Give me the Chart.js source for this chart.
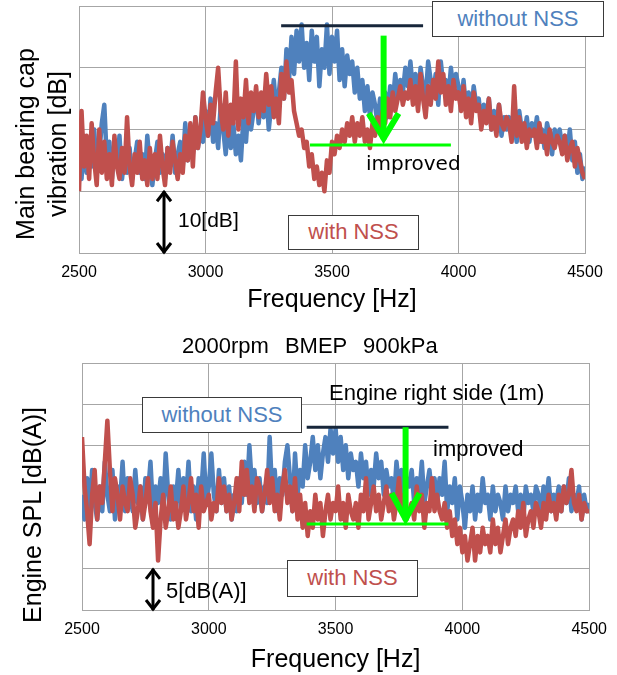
<!DOCTYPE html>
<html>
<head>
<meta charset="utf-8">
<script src="https://cdn.jsdelivr.net/npm/chart.js@4.4.1/dist/chart.umd.min.js"></script>
<style>
body{margin:0;width:617px;height:675px;position:relative;background:#fff;overflow:hidden;font-family:Arial,"Liberation Sans",sans-serif}
canvas{position:absolute;left:0}
#topChart{top:0}
#botChart{top:330px}
.box{position:absolute;background:#fff;border:1.5px solid #3a3a3a;box-sizing:border-box;text-align:center;font-size:22px}
.lbl{position:absolute;white-space:pre;color:#000}
.ytitle{position:absolute;transform:rotate(-90deg);white-space:nowrap;text-align:center;font-size:25px;color:#000}
</style>
</head>
<body>
<canvas id="topChart" width="617" height="320"></canvas>
<canvas id="botChart" width="617" height="345"></canvas>

<!-- top chart labels -->
<div class="ytitle" style="left:-89px;top:112px;width:260px;height:64px;line-height:32px">Main bearing cap<br>vibration [dB]</div>
<div class="box" style="left:432px;top:1px;width:172px;height:36px;line-height:33px;color:#4F81BD">without NSS</div>
<div class="box" style="left:288px;top:215px;width:131px;height:35px;line-height:32px;color:#C0504D">with NSS</div>
<div class="lbl" style="left:366px;top:151px;font-family:'DejaVu Sans',sans-serif;font-size:20px;line-height:24px">improved</div>
<div class="lbl" style="left:178px;top:208px;font-size:21px;line-height:24px">10[dB]</div>

<!-- bottom chart labels -->
<div class="lbl" style="left:182px;top:333px;font-size:22px;line-height:26px;word-spacing:10px">2000rpm BMEP 900kPa</div>
<div class="ytitle" style="left:-118px;top:500px;width:300px;height:30px;line-height:30px">Engine SPL [dB(A)]</div>
<div class="lbl" style="left:329px;top:380px;font-size:22px;line-height:26px">Engine right side (1m)</div>
<div class="box" style="left:142px;top:397px;width:160px;height:36px;line-height:33px;color:#4F81BD">without NSS</div>
<div class="box" style="left:287px;top:560px;width:131px;height:37px;line-height:34px;color:#C0504D">with NSS</div>
<div class="lbl" style="left:433px;top:436px;font-size:22px;line-height:26px">improved</div>
<div class="lbl" style="left:166px;top:578px;font-size:22px;line-height:26px">5[dB(A)]</div>

<script>
// ===== DATA =====
// frequency grid, 10 Hz steps from 2500 to 4500
const FREQ_HZ = Array.from({length: 201}, (_, i) => 2500 + i * 10);
const X_TICKS = [2500, 3000, 3500, 4000, 4500];

// Main bearing cap vibration [dB]
const TOP_WITHOUT_NSS = [
  16,12,19,13,17,14,20,13,16,21,
  24,15,18,12,17,14,19,12,16,13,
  17,12,15,18,13,16,12,19,14,11,
  15,18,13,16,12,17,14,19,13,16,
  18,14,21,15,19,16,22,17,20,18,
  23,19,25,18,21,17,24,20,16,22,
  17,21,16,19,15,22,18,24,20,23,
  26,21,25,22,27,20,24,28,23,26,
  30,25,33,28,35,29,36,31,37,30,
  34,28,36,31,35,27,33,30,37,29,
  35,31,36,28,33,27,32,29,31,26,
  30,25,28,23,27,22,26,24,21,25,
  23,26,22,27,24,29,25,28,26,30,
  27,31,26,29,24,30,27,25,31,28,
  26,29,24,31,27,28,25,30,26,29,
  27,24,28,23,26,22,27,24,25,21,
  24,22,25,20,23,21,24,19,22,20,
  22,19,21,18,23,20,19,22,18,21,
  19,22,18,20,17,21,19,16,20,18,
  20,17,19,16,20,15,18,13,16,12,
  14
];
const TOP_WITH_NSS = [
  10,23,14,19,12,21,15,11,20,13,
  18,12,16,11,19,14,12,17,13,22,
  14,11,16,13,18,12,15,11,17,12,
  16,12,19,14,11,17,13,18,15,12,
  16,13,19,15,21,14,22,17,20,26,
  22,19,24,21,26,30,23,20,26,19,
  24,21,31,20,25,22,28,21,26,23,
  27,22,26,23,29,24,27,22,25,21,
  29,25,31,26,28,23,21,19,20,17,
  18,14,16,12,14,11,13,10,15,13,
  18,16,19,17,20,18,21,19,22,18,
  21,19,22,18,20,17,21,19,22,20,
  23,21,25,22,26,23,25,27,24,26,
  25,28,24,27,23,29,25,22,27,24,
  28,25,31,26,29,24,27,23,28,25,
  26,23,27,22,25,21,26,23,24,20,
  23,21,25,20,22,19,24,21,20,22,
  21,18,27,19,22,18,21,17,20,19,
  20,17,21,18,19,16,20,18,17,19,
  18,16,19,15,17,18,14,17,15,13,
  12
];

// Engine SPL [dB(A)]
const BOT_WITHOUT_NSS = [
  14,11,16,12,17,13,11,15,12,18,
  14,12,17,11,15,13,18,12,16,14,
  12,17,13,15,11,16,14,18,12,15,
  13,16,12,19,14,11,15,13,17,12,
  16,13,18,12,15,11,16,14,19,13,
  15,19,14,12,17,13,16,12,15,11,
  14,12,16,13,18,14,20,15,17,13,
  16,12,15,13,21,14,17,12,16,14,
  18,20,16,12,19,14,17,15,20,16,
  18,21,17,20,16,19,21,18,22,19,
  22,18,21,17,20,16,19,17,18,15,
  19,16,18,14,17,15,19,16,18,14,
  17,15,16,13,18,15,17,14,16,15,
  17,13,16,14,18,13,15,17,14,16,
  13,16,14,18,12,15,13,16,11,15,
  13,10,14,12,15,11,14,12,16,13,
  14,11,15,12,14,13,11,15,12,14,
  13,15,12,14,11,15,13,14,12,15,
  14,12,15,13,16,12,14,13,15,12,
  15,13,16,12,14,13,15,11,14,12,
  13
];
const BOT_WITH_NSS = [
  21,15,12,8,14,17,11,15,13,18,
  23,17,12,16,14,11,15,13,12,16,
  14,10,12,15,11,13,16,12,10,13,
  6,11,14,10,12,15,11,13,10,12,
  15,11,13,16,12,14,10,15,12,13,
  14,11,13,12,16,13,15,12,14,11,
  13,16,12,18,14,17,13,15,12,16,
  15,12,14,17,13,16,12,14,11,15,
  17,13,15,12,16,11,14,10,13,9,
  12,10,14,11,13,9,12,14,11,13,
  12,15,11,13,10,14,12,11,13,10,
  14,12,16,11,13,15,12,14,11,13,
  15,12,14,11,13,16,12,14,11,12,
  13,11,15,12,14,10,13,12,16,12,
  14,12,11,13,10,12,9,11,8,10,
  7,9,6,8,10,6,9,7,10,8,
  9,7,11,8,10,7,9,11,8,10,
  11,9,12,10,13,9,11,12,10,13,
  12,10,13,11,14,12,13,11,14,12,
  15,13,14,17,13,12,14,11,13,12,
  12
];

const BLUE = '#4F81BD';
const RED = '#C0504D';
const GRID = '#a6a6a6';
const GREEN = '#00ff00';
const NAVY = '#17263a';

// ===== ANNOTATIONS (lines / arrows in data coordinates) =====
const annotPlugin = {
    id: 'annot',
    afterDatasetsDraw(chart, args, opts) {
        const ctx = chart.ctx;
        const xs = chart.scales.x, ys = chart.scales.y;
        ctx.save();
        (opts.lines || []).forEach(l => {
            ctx.strokeStyle = l.color;
            ctx.lineWidth = l.width;
            ctx.beginPath();
            ctx.moveTo(xs.getPixelForValue(l.x0), ys.getPixelForValue(l.y));
            ctx.lineTo(xs.getPixelForValue(l.x1), ys.getPixelForValue(l.y));
            ctx.stroke();
        });
        (opts.arrows || []).forEach(a => {
            const px = xs.getPixelForValue(a.x);
            const pTop = ys.getPixelForValue(a.y1);
            const pBot = ys.getPixelForValue(a.y0);
            ctx.strokeStyle = a.color;
            ctx.lineWidth = a.width;
            ctx.lineCap = 'butt';
            ctx.beginPath();
            ctx.moveTo(px, pTop);
            ctx.lineTo(px, pBot);
            ctx.stroke();
            ctx.lineJoin = 'miter';
            // head at the bottom end
            ctx.beginPath();
            ctx.moveTo(px - a.hw, pBot - a.hl);
            ctx.lineTo(px, pBot - 1);
            ctx.lineTo(px + a.hw, pBot - a.hl);
            ctx.stroke();
            if (a.both) {
                ctx.beginPath();
                ctx.moveTo(px - a.hw, pTop + a.hl);
                ctx.lineTo(px, pTop + 1);
                ctx.lineTo(px + a.hw, pTop + a.hl);
                ctx.stroke();
            }
        });
        ctx.restore();
    }
};

function makeChart(id, blue, red, cfg) {
    const ctx = document.getElementById(id);
    return new Chart(ctx, {
        type: 'line',
        data: {
            datasets: [
                {
                    label: 'with NSS',
                    data: FREQ_HZ.map((f, i) => ({x: f, y: red[i]})),
                    borderColor: RED,
                    borderWidth: 4.5,
                    borderJoinStyle: 'round',
                    pointRadius: 0,
                    tension: 0,
                    order: 0
                },
                {
                    label: 'without NSS',
                    data: FREQ_HZ.map((f, i) => ({x: f, y: blue[i]})),
                    borderColor: BLUE,
                    borderWidth: 4.5,
                    borderJoinStyle: 'round',
                    pointRadius: 0,
                    tension: 0,
                    order: 1
                }
            ]
        },
        options: {
            responsive: false,
            animation: false,
            layout: {padding: {top: cfg.padTop, right: cfg.padRight, left: 0, bottom: 0}},
            plugins: {
                legend: {display: false},
                tooltip: {enabled: false},
                annot: cfg.annot
            },
            scales: {
                x: {
                    type: 'linear',
                    min: 2500,
                    max: 4500,
                    afterBuildTicks: s => { s.ticks = X_TICKS.map(v => ({value: v})); },
                    afterFit: s => { s.height = cfg.xHeight; },
                    ticks: {
                        color: '#000',
                        font: {family: 'Arial', size: 16},
                        padding: 10,
                        maxRotation: 0,
                        callback: v => String(v)
                    },
                    grid: {color: GRID, drawTicks: false},
                    border: {color: GRID},
                    title: {
                        display: true,
                        text: 'Frequency [Hz]',
                        color: '#000',
                        font: {family: 'Arial', size: 25},
                        padding: {top: 0, bottom: cfg.titlePad}
                    }
                },
                y: {
                    min: 0,
                    max: cfg.yMax,
                    afterBuildTicks: s => { s.ticks = cfg.yTicks.map(v => ({value: v})); },
                    afterFit: s => { s.width = cfg.yWidth; },
                    ticks: {display: false},
                    grid: {color: GRID, drawTicks: false},
                    border: {color: GRID}
                }
            }
        },
        plugins: [annotPlugin]
    });
}

document.addEventListener('DOMContentLoaded', function() {
    makeChart('topChart', TOP_WITHOUT_NSS, TOP_WITH_NSS, {
        padTop: 6, padRight: 32, xHeight: 67, yWidth: 79, titlePad: 5,
        yMax: 40, yTicks: [0, 10, 20, 30, 40],
        annot: {
            lines: [
                {x0: 3299, x1: 3860, y: 36.8, color: NAVY, width: 3},
                {x0: 3413, x1: 3970, y: 17.5, color: GREEN, width: 3}
            ],
            arrows: [
                {x: 3704, y0: 18.4, y1: 35.2, color: GREEN, width: 6, hw: 15, hl: 26},
                {x: 2836, y0: 0, y1: 10, color: '#000', width: 3, hw: 7, hl: 10, both: true}
            ]
        }
    });
    makeChart('botChart', BOT_WITHOUT_NSS, BOT_WITH_NSS, {
        padTop: 33, padRight: 27, xHeight: 65, yWidth: 82, titlePad: 0,
        yMax: 30, yTicks: [0, 5, 10, 15, 20, 25, 30],
        annot: {
            lines: [
                {x0: 3386, x1: 3945, y: 22.2, color: NAVY, width: 3},
                {x0: 3386, x1: 3945, y: 10.45, color: GREEN, width: 3}
            ],
            arrows: [
                {x: 3776, y0: 10.9, y1: 22.2, color: GREEN, width: 6, hw: 14, hl: 27},
                {x: 2780, y0: 0, y1: 5, color: '#000', width: 3, hw: 7, hl: 10, both: true}
            ]
        }
    });
});
</script>
</body>
</html>
